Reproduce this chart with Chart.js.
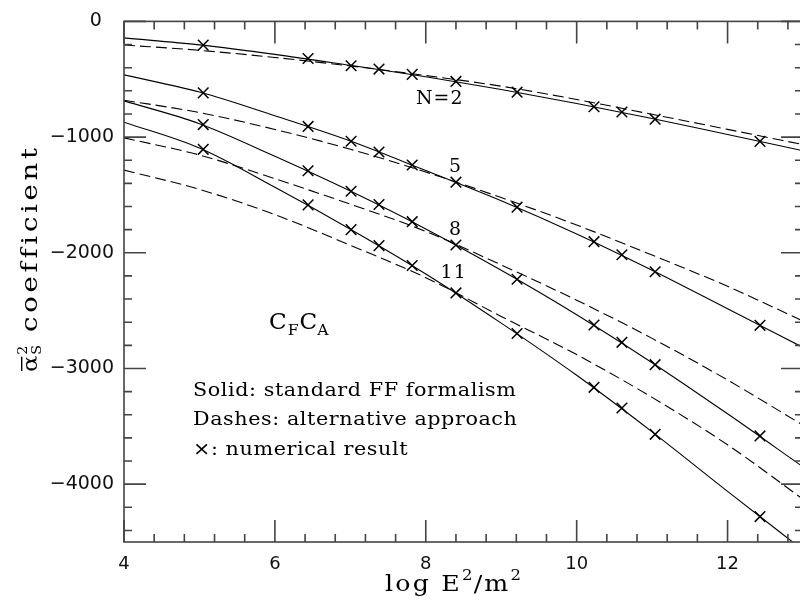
<!DOCTYPE html>
<html><head><meta charset="utf-8">
<script src="https://cdn.jsdelivr.net/npm/chart.js@4.4.1/dist/chart.umd.min.js"></script>
<style>html,body{margin:0;padding:0;overflow:hidden;background:#fff}#wrap{width:812px;height:606px}</style>
</head><body><div id="wrap"><canvas id="c" width="812" height="606"></canvas></div>
<script>
// ---- data ----
const curveX = [4, 5, 6, 7, 8, 9, 10, 11, 12, 13];
const solidN2  = [-142, -203, -285, -380, -478, -588, -709, -839, -978, -1118];
const solidN5  = [-462, -611, -816, -1034, -1289, -1550, -1837, -2151, -2484, -2818];
const solidN8  = [-687, -884, -1166, -1467, -1794, -2151, -2535, -2950, -3392, -3851];
const solidN11 = [-871, -1095, -1434, -1796, -2183, -2608, -3059, -3548, -4062, -4570];
const dashedN2  = [-204, -250, -312, -385, -468, -560, -675, -803, -933, -1065];
const dashedN5  = [-681, -788, -934, -1105, -1302, -1523, -1760, -2020, -2290, -2590];
const dashedN8  = [-1007, -1155, -1360, -1580, -1815, -2105, -2410, -2740, -3100, -3490];
const dashedN11 = [-1285, -1452, -1670, -1935, -2215, -2550, -2880, -3250, -3660, -4130];

const markerX = [5.05, 6.44, 7.01, 7.38, 7.82, 8.40, 9.21, 10.23, 10.60, 11.04, 12.43];
const markN2  = [-205, -321, -383, -412, -458, -519, -612, -738, -783, -845, -1037];
const markN5  = [-618, -908, -1036, -1129, -1241, -1390, -1606, -1904, -2017, -2164, -2627];
const markN8  = [-892, -1291, -1468, -1583, -1731, -1933, -2229, -2624, -2774, -2967, -3583];
const markN11 = [-1106, -1586, -1800, -1938, -2110, -2347, -2698, -3163, -3342, -3569, -4280];

const xMajorTicks = [4, 6, 8, 10, 12];
const yMajorTicks = [0, -1000, -2000, -3000, -4000];
const xMinorStep = 0.4;
const yMinorStep = 200;

const curveLabels = [
  {text: 'N=2', x: 8.185, y: -718},
  {text: '5',   x: 8.393, y: -1301},
  {text: '8',   x: 8.393, y: -1847},
  {text: '11',  x: 8.37,  y: -2216}
];
const legendLines = ['Solid: standard FF formalism', 'Dashes: alternative approach', '\u00d7: numerical result'];

// ---- helpers ----
const pts = (xs, ys) => xs.map((x, i) => ({x: x, y: ys[i]}));
const SERIF = '"DejaVu Serif", serif';

function lineDs(ys, dashed) {
  return {data: pts(curveX, ys), borderColor: '#000', borderWidth: 1.1, pointRadius: 0,
    borderDash: dashed ? [11, 5] : [], cubicInterpolationMode: 'monotone', fill: false};
}
function markDs(ys) {
  return {data: pts(markerX, ys), showLine: false, pointStyle: 'crossRot', pointRadius: 7.5,
    pointBorderWidth: 1.5, pointBorderColor: '#000', pointBackgroundColor: '#000', borderColor: '#000'};
}

// draws text stretched horizontally by sx, returns advance in unscaled units
function wtext(ctx, t, x, y, size, sx, spacing) {
  ctx.save();
  ctx.font = size + 'px ' + SERIF;
  ctx.letterSpacing = (spacing || 0) + 'px';
  ctx.translate(x, y);
  ctx.scale(sx, 1);
  ctx.fillText(t, 0, 0);
  const w = ctx.measureText(t).width * sx;
  ctx.restore();
  return w;
}

const framePlugin = {
  id: 'frame',
  afterDatasetsDraw(chart) {
    const {ctx, chartArea: a, scales: {x, y}} = chart;
    ctx.save();
    ctx.strokeStyle = '#444';
    ctx.lineWidth = 1.6;
    ctx.strokeRect(a.left, a.top, a.right - a.left, a.bottom - a.top);
    ctx.beginPath();
    for (let v = x.min; v <= x.max + 1e-9; v += xMinorStep) {
      const p = x.getPixelForValue(v);
      const major = xMajorTicks.some(t => Math.abs(t - v) < 1e-6);
      const L = major ? 22 : 8;
      ctx.moveTo(p, a.bottom); ctx.lineTo(p, a.bottom - L);
      ctx.moveTo(p, a.top); ctx.lineTo(p, a.top + L);
    }
    for (let v = y.max; v >= y.min - 1e-9; v -= yMinorStep) {
      const p = y.getPixelForValue(v);
      const major = yMajorTicks.some(t => Math.abs(t - v) < 1e-6);
      const L = major ? 22 : 8;
      ctx.moveTo(a.left, p); ctx.lineTo(a.left + L, p);
      ctx.moveTo(a.right, p); ctx.lineTo(a.right - L, p);
    }
    ctx.stroke();
    ctx.restore();
  }
};

const textPlugin = {
  id: 'texts',
  afterDraw(chart) {
    const {ctx, scales: {x, y}} = chart;
    ctx.save();
    ctx.fillStyle = '#000';
    ctx.textBaseline = 'alphabetic';
    ctx.textAlign = 'left';
    // curve labels (centered)
    curveLabels.forEach(l => {
      ctx.font = '18px ' + SERIF;
      ctx.letterSpacing = '1px';
      const w = ctx.measureText(l.text).width * 1.05;
      wtext(ctx, l.text, x.getPixelForValue(l.x) - w / 2, y.getPixelForValue(l.y), 18, 1.05, 1);
    });
    // C_F C_A
    let cx = 269, cy = 329;
    cx += wtext(ctx, 'C', cx, cy, 22, 1.05, 0) + 1;
    cx += wtext(ctx, 'F', cx, cy + 6, 15, 1.05, 0) + 1;
    cx += wtext(ctx, 'C', cx, cy, 22, 1.05, 0);
    wtext(ctx, 'A', cx, cy + 6, 15, 1.05, 0);
    // legend
    const lb = [396, 425, 455];
    legendLines.forEach((t, i) => wtext(ctx, t, 193, lb[i], 18, 1.15, 0.5));
    // x title: log E^2/m^2
    let tx = 385, ty = 591;
    tx += wtext(ctx, 'log E', tx, ty, 23, 1.1, 2);
    tx += wtext(ctx, '2', tx, ty - 11, 15, 1.1, 1);
    tx += wtext(ctx, '/m', tx, ty, 23, 1.1, 2);
    wtext(ctx, '2', tx, ty - 11, 15, 1.1, 1);
    // y title (rotated)
    ctx.translate(37, 372);
    ctx.rotate(-Math.PI / 2);
    const aw = wtext(ctx, '\u03b1', 0, 0, 21, 1.15, 0);
    ctx.fillRect(1, -16, aw - 2, 1.4);
    wtext(ctx, '2', aw + 1, -10, 13, 1.1, 0);
    wtext(ctx, 'S', aw + 1, 4, 13, 1.1, 0);
    wtext(ctx, 'coefficient', 40, 0, 22, 1.25, 3);
    ctx.restore();
  }
};

const tickLabel = v => (v < 0 ? '\u2212' + Math.abs(v) : String(v));

new Chart(document.getElementById('c'), {
  type: 'line',
  data: {
    datasets: [
      lineDs(solidN2, false), lineDs(solidN5, false), lineDs(solidN8, false), lineDs(solidN11, false),
      lineDs(dashedN2, true), lineDs(dashedN5, true), lineDs(dashedN8, true), lineDs(dashedN11, true),
      markDs(markN2), markDs(markN5), markDs(markN8), markDs(markN11)
    ]
  },
  options: {
    responsive: false,
    animation: false,
    events: [],
    layout: {padding: {top: 14, left: 0, right: 3, bottom: 0}},
    plugins: {legend: {display: false}, tooltip: {enabled: false}},
    scales: {
      x: {
        type: 'linear', min: 4, max: 13,
        grid: {display: false, drawTicks: false}, border: {display: false},
        afterBuildTicks: s => { s.ticks = xMajorTicks.map(v => ({value: v})); },
        afterFit: s => { s.height = 64; },
        ticks: {font: {family: 'DejaVu Sans', size: 18}, color: '#111', padding: 12, maxRotation: 0,
          callback: v => tickLabel(v)}
      },
      y: {
        type: 'linear', min: -4500, max: 0,
        grid: {display: false, drawTicks: false}, border: {display: false},
        afterBuildTicks: s => { s.ticks = yMajorTicks.map(v => ({value: v})); },
        afterFit: s => { s.width = 124; },
        ticks: {font: {family: 'DejaVu Sans', size: 19}, color: '#111', padding: 10,
          callback: v => (v === 0 ? '0\u2007' : tickLabel(v))}
      }
    }
  },
  plugins: [framePlugin, textPlugin]
});
</script></body></html>
